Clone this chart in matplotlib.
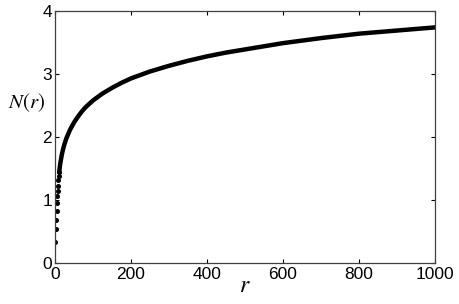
import matplotlib
matplotlib.use("Agg")
import matplotlib.pyplot as plt

# values
r_vals = [1, 2, 3, 4, 5, 6, 7, 8, 9, 10, 11, 13, 15, 18, 21, 25, 30, 35, 40, 50,
          60, 70, 80, 100, 125, 150, 175, 200, 250, 300, 350, 400, 450, 500,
          600, 700, 800, 900, 1000]
n_vals = [0.34, 0.54, 0.69, 0.83, 0.95, 1.06, 1.15, 1.23, 1.31, 1.38, 1.44, 1.54,
          1.62, 1.72, 1.80, 1.89, 1.98, 2.05, 2.12, 2.23, 2.32, 2.40, 2.47, 2.58,
          2.69, 2.78, 2.86, 2.93, 3.04, 3.13, 3.21, 3.28, 3.34, 3.39, 3.49, 3.57,
          3.64, 3.69, 3.74]
x_ticks = [0, 200, 400, 600, 800, 1000]
y_ticks = [0, 1, 2, 3, 4]

plt.rcParams['font.family'] = ['Liberation Sans', 'DejaVu Sans']
plt.rcParams['mathtext.fontset'] = 'stix'

fig = plt.figure(figsize=(4.59, 3.04), dpi=100)
ax = fig.add_axes([55/459, 41/304, 380/459, 252/304])

split = 10
ax.plot(r_vals[split:], n_vals[split:], color='black', lw=3.2,
        solid_capstyle='round', solid_joinstyle='round')
ax.plot(r_vals[:split + 1], n_vals[:split + 1], linestyle='none', marker='o',
        markersize=2.6, color='black')

ax.set_xlim(0, 1000)
ax.set_ylim(0, 4)
ax.set_xticks(x_ticks)
ax.set_yticks(y_ticks)
ax.tick_params(direction='in', length=3, width=0.8, labelsize=12.5,
               top=True, right=True)
ax.tick_params(axis='x', pad=3)
ax.tick_params(axis='y', pad=2)
for s in ax.spines.values():
    s.set_linewidth(0.9)
    s.set_color('#404040')

ax.set_xlabel('$r$', fontsize=17, labelpad=-5)
ax.set_ylabel('$N(r)$', fontsize=15, rotation=0, labelpad=2)
ax.yaxis.set_label_coords(-0.075, 0.59)

fig.savefig('out.png', dpi=100)
